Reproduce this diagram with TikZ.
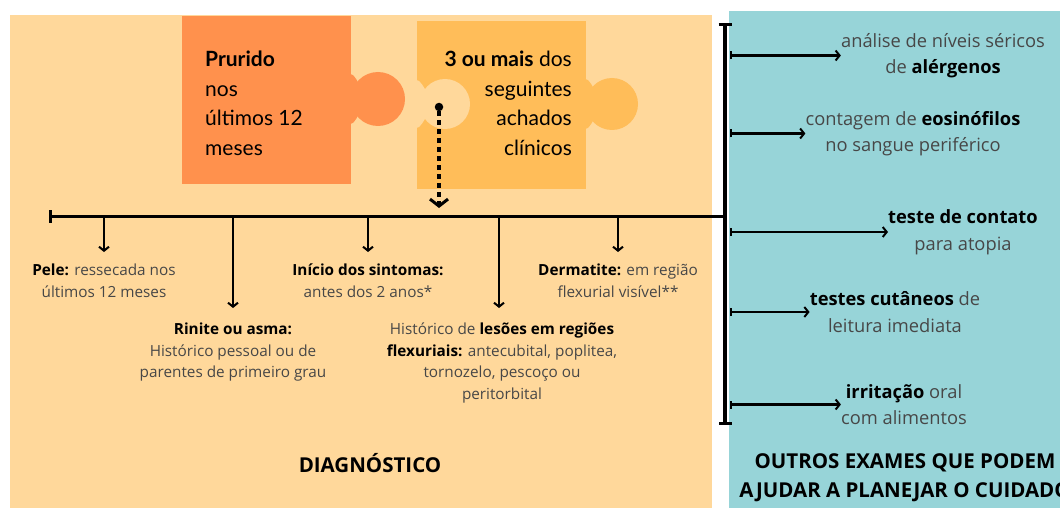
\documentclass[tikz,border=0pt]{standalone}
\usepackage{fontspec}
\setmainfont{Open Sans}
\newfontfamily\puzfont{Lato}
\usetikzlibrary{arrows.meta}
\definecolor{bgorange}{HTML}{FFD89B}
\definecolor{bgteal}{HTML}{97D4D8}
\definecolor{pzone}{HTML}{FF914D}
\definecolor{pztwo}{HTML}{FFBD59}
\definecolor{txt}{HTML}{474747}
\newcommand\bkb[1]{\textcolor{black}{\bfseries #1}}
\begin{document}
\begin{tikzpicture}[x=1pt,y=-1pt,
 lbl/.style={align=center, inner sep=0pt, text=txt, font=\fontsize{15.3}{21.5}\selectfont},
 rlbl/.style={align=center, inner sep=0pt, text=txt, font=\fontsize{18.3}{26.5}\selectfont},
 ttl/.style={align=center, inner sep=0pt, text=black, font=\fontsize{20.5}{29}\selectfont\bfseries},
 ptxt/.style={inner sep=0pt, text=black, font=\puzfont\fontsize{21}{29.5}\selectfont},
 tline/.style={line width=3pt},
 darrow/.style={line width=2.2pt, -{Straight Barb[length=4pt,width=10pt,line width=2pt]}},
 rarrow/.style={line width=2.2pt, {Bar[width=8pt,line width=2pt]}-{Straight Barb[length=4pt,width=10pt,line width=2pt]}},
]
\useasboundingbox (0,0) rectangle (1060,508);
\fill[white] (0,0) rectangle (1060,508);
% panels
\fill[bgorange] (10,15) rectangle (712,508);
\fill[bgteal] (729,11) rectangle (1060,508);

% puzzle piece 1
\fill[pzone] (182,16) rectangle (351,184);
\fill[pzone] (378,99) circle[radius=27];
\fill[pzone] (349,74) .. controls (357,74) and (356,84) .. (362,86) -- (362,112) .. controls (356,114) and (357,124) .. (349,124) -- cycle;
% puzzle piece 2
\fill[pztwo] (417,21) rectangle (586,189);
\fill[pztwo] (612,104) circle[radius=26];
\fill[pztwo] (584,79) .. controls (592,79) and (591,89) .. (597,91) -- (597,117) .. controls (591,119) and (592,129) .. (584,129) -- cycle;
\fill[bgorange] (445,104) circle[radius=25];
\fill[bgorange] (415,80) .. controls (423,80) and (422,89) .. (428,91) -- (428,117) .. controls (422,119) and (423,128) .. (415,128) -- cycle;

\node[ptxt, anchor=west, align=left] (p1) at (205,103.5) {\textbf{Prurido}\\nos\\últimos 12\\meses};
\node[ptxt, anchor=east, align=right] (p2) at (572,103.5) {\textbf{3 ou mais} dos\\seguintes\\achados\\clínicos};

% dotted arrow
\node[circle, fill=black, minimum size=8.5pt, inner sep=0pt] (dot) at (439,107) {};
\coordinate (chev) at (439,208);
\draw[line width=3.2pt, dash pattern=on 4.5pt off 4.5pt, -{Straight Barb[length=7pt,width=18pt,line width=3pt]}] (dot) -- (chev);

% timeline
\coordinate (tlL) at (49,216);
\coordinate (tlR) at (725,216);
\draw[tline, {Bar[width=13pt]}-] (tlL) -- (tlR);

% vertical line
\coordinate (vT) at (725,23);
\coordinate (vB) at (725,425);
\coordinate (vx) at (730,0);
\draw[line width=3.5pt, {Bar[width=13pt]}-{Bar[width=13pt]}] (vT) -- (vB);

% left labels
\node[lbl, anchor=north] (pele) at (104,264) {\bkb{Pele:} ressecada nos\\últimos 12 meses};
\node[lbl, anchor=north] (rinite) at (233,323) {\bkb{Rinite ou asma:}\\Histórico pessoal ou de\\parentes de primeiro grau};
\node[lbl, anchor=north] (inicio) at (368,264) {\bkb{Início dos sintomas:}\\antes dos 2 anos*};
\node[lbl, anchor=north] (lesoes) at (502,323) {Histórico de \bkb{lesões em regiões}\\\bkb{flexuriais:} antecubital, poplitea,\\tornozelo, pescoço ou\\peritorbital};
\node[lbl, anchor=north] (derm) at (618,264) {\bkb{Dermatite:} em região\\flexurial visível**};

\draw[darrow] (tlL -| pele) -- ([yshift=12pt]pele.north);
\draw[darrow] (tlL -| rinite) -- ([yshift=15pt]rinite.north);
\draw[darrow] (tlL -| inicio) -- ([yshift=12pt]inicio.north);
\draw[darrow] ([xshift=-3pt]tlL -| lesoes) -- ([xshift=-3pt,yshift=15pt]lesoes.north);
\draw[darrow] (tlL -| derm) -- ([yshift=12pt]derm.north);

\node[ttl] (diag) at (370,463) {DIAGNÓSTICO};

% right labels
\node[rlbl] (t1) at (943,55.5) {análise de níveis séricos\\de \bkb{alérgenos}};
\node[rlbl] (t2) at (913,133.5) {contagem de \bkb{eosinófilos}\\no sangue periférico};
\node[rlbl] (t3) at (963,232) {\bkb{teste de contato}\\para atopia};
\node[rlbl] (t4) at (895,312) {\bkb{testes cutâneos} de\\leitura imediata};
\node[rlbl] (t5) at (904,404.5) {\bkb{irritação} oral\\com alimentos};

\draw[rarrow] (t1.west -| vx) -- (t1.west);
\draw[rarrow] (t2.west -| vx) -- (t2.west);
\draw[rarrow] (t3.west -| vx) -- (t3.west);
\draw[rarrow] (t4.west -| vx) -- (t4.west);
\draw[rarrow] (t5.west -| vx) -- (t5.west);

\node[ttl] (outros) at (905,477.5) {OUTROS EXAMES QUE PODEM\\AJUDAR A PLANEJAR O CUIDADO};
\end{tikzpicture}
\end{document}
